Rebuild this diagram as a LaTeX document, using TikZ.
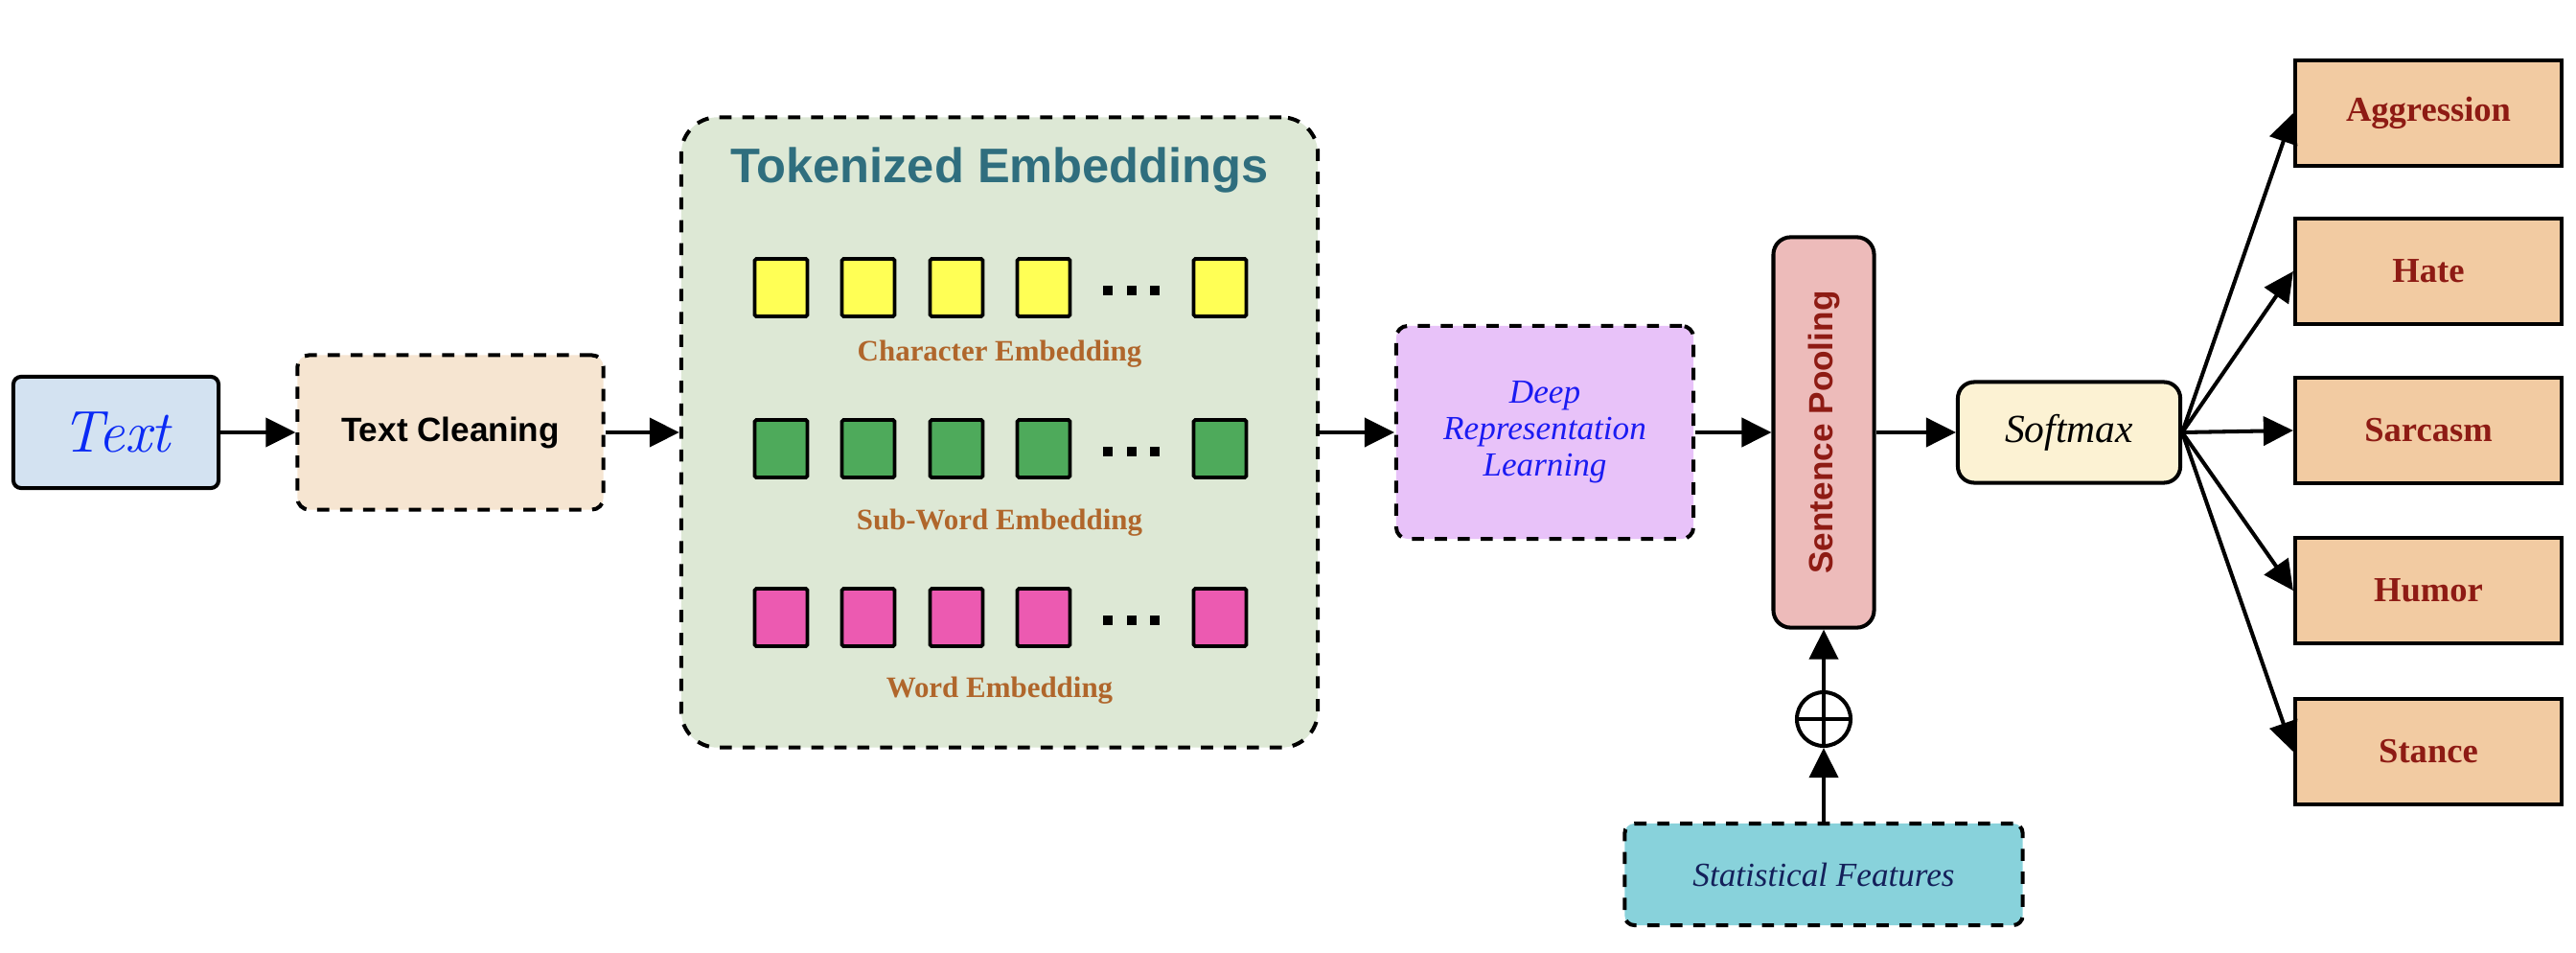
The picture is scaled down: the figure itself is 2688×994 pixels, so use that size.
\documentclass[tikz,border=0pt]{standalone}
\usepackage{fontspec}
\setsansfont{Liberation Sans}
\newfontfamily\labelserif{Liberation Serif}
\usetikzlibrary{arrows.meta}
\definecolor{txtfill}{HTML}{D3E2F1}
\definecolor{txtblue}{HTML}{0A2AF5}
\definecolor{cleanfill}{HTML}{F6E5D1}
\definecolor{tokfill}{HTML}{DDE8D5}
\definecolor{tokteal}{HTML}{2F6E7E}
\definecolor{charyellow}{HTML}{FFFF55}
\definecolor{subgreen}{HTML}{4EAA5B}
\definecolor{wordpink}{HTML}{EC5AB1}
\definecolor{embbrown}{HTML}{B0662B}
\definecolor{deepfill}{HTML}{E8C2F9}
\definecolor{deepblue}{HTML}{1B1BF2}
\definecolor{poolfill}{HTML}{EDBBBA}
\definecolor{darkred}{HTML}{8E1B14}
\definecolor{softfill}{HTML}{FCF2D3}
\definecolor{statfill}{HTML}{88D2DB}
\definecolor{statnavy}{HTML}{14205A}
\definecolor{outfill}{HTML}{F2CBA2}

\begin{document}
\begin{tikzpicture}[x=0.01cm,y=-0.01cm,
  box/.style={draw=black,line width=1.15pt,align=center,inner sep=0pt},
  dbox/.style={box,dash pattern=on 3.6pt off 3.2pt},
  cell/.style={draw=black,line width=1.1pt,minimum width=0.55cm,
    minimum height=0.6cm,inner sep=0pt,rounded corners=0.5pt},
  emblab/.style={font=\labelserif\bfseries\fontsize{8.8}{10}\selectfont,
    text=embbrown},
  outbox/.style={box,fill=outfill,minimum width=2.78cm,minimum height=1.1cm,
    font=\labelserif\bfseries\fontsize{10.4}{12}\selectfont,text=darkred},
  arr/.style={line width=1.15pt,-{Triangle[length=0.31cm,width=0.3cm]}}]
  \useasboundingbox (0,0) rectangle (2688,994);

  % input and cleaning
  \node[box,fill=txtfill,minimum width=2.14cm,minimum height=1.16cm,
    rounded corners=0.08cm,text=txtblue,font=\itshape\fontsize{17.5}{20}\selectfont]
    (txt) at (121,451) {Text};
  \node[dbox,fill=cleanfill,minimum width=3.19cm,minimum height=1.61cm,
    rounded corners=0.12cm,font=\sffamily\bfseries\fontsize{10}{12}\selectfont]
    (clean) at (470,451) {Text Cleaning};

  % tokenized embeddings
  \node[dbox,fill=tokfill,minimum width=6.64cm,minimum height=6.57cm,
    rounded corners=0.38cm] (tok) at (1043,451) {};
  \node[text=tokteal,font=\sffamily\bfseries\fontsize{14.4}{16}\selectfont]
    (toktitle) at (1043,178) {Tokenized Embeddings};
  \foreach \x [count=\i] in {815,906,998,1089,1273} {
    \node[cell,fill=charyellow] (c\i) at (\x,300) {};
    \node[cell,fill=subgreen] (s\i) at (\x,468) {};
    \node[cell,fill=wordpink] (w\i) at (\x,644) {};
  }
  \foreach \d in {1156,1181,1205}
    \foreach \r in {303,471,647}
      \fill (\d-5,\r-5) rectangle (\d+5,\r+5);
  \node[emblab] (clab) at (1043,369) {Character Embedding};
  \node[emblab] (slab) at (1043,545) {Sub-Word Embedding};
  \node[emblab] (wlab) at (1043,720) {Word Embedding};

  % representation, pooling, softmax
  \node[dbox,fill=deepfill,minimum width=3.1cm,minimum height=2.22cm,
    rounded corners=0.12cm,text=deepblue,
    font=\labelserif\itshape\fontsize{10}{10.8}\selectfont]
    (deep) at (1612,451) {Deep\\Representation\\Learning};
  \node[box,fill=poolfill,minimum width=1.05cm,minimum height=4.07cm,
    rounded corners=0.18cm] (pool) at (1903,451) {};
  \node[rotate=90,text=darkred,font=\sffamily\bfseries\fontsize{10}{12}\selectfont]
    (poollab) at (1903,451) {Sentence Pooling};
  \node[box,fill=softfill,minimum width=2.32cm,minimum height=1.05cm,
    rounded corners=0.17cm,font=\labelserif\itshape\fontsize{11.8}{14}\selectfont]
    (soft) at (2159,451) {Softmax};

  % statistical features
  \node[draw=black,line width=1.15pt,circle,minimum size=0.56cm,inner sep=0pt]
    (plus) at (1903,750) {};
  \draw[line width=1.15pt] (plus.north) -- (plus.south) (plus.west) -- (plus.east);
  \node[dbox,fill=statfill,minimum width=4.15cm,minimum height=1.06cm,
    rounded corners=0.1cm,text=statnavy,
    font=\labelserif\itshape\fontsize{10}{12}\selectfont]
    (stat) at (1903,912) {Statistical Features};

  % outputs
  \node[outbox] (agg) at (2534,118) {Aggression};
  \node[outbox] (hate) at (2534,283) {Hate};
  \node[outbox] (sarc) at (2534,449) {Sarcasm};
  \node[outbox] (hum) at (2534,616) {Humor};
  \node[outbox] (stan) at (2534,784) {Stance};

  \draw[arr] (txt.east) -- (clean.west);
  \draw[arr] (clean.east) -- (tok.west);
  \draw[arr] (tok.east) -- (deep.west);
  \draw[arr] (deep.east) -- (pool.west);
  \draw[arr] (pool.east) -- (soft.west);
  \draw[arr] (stat.north) -- (plus.south);
  \draw[arr] (plus.north) -- (pool.south);
  \foreach \o in {agg,hate,sarc,hum,stan}
    \draw[arr] (soft.east) -- (\o.west);
\end{tikzpicture}
\end{document}
